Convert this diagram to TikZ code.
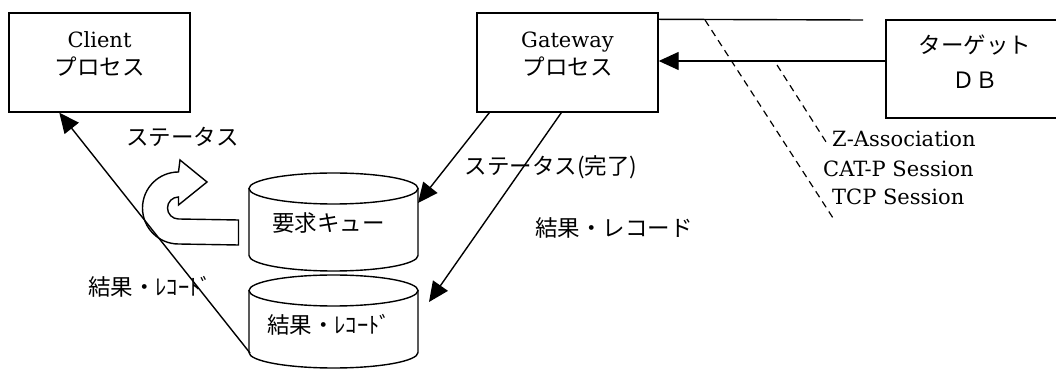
\documentclass[tikz,border=0pt]{standalone}
\usepackage{fontspec}
\setmainfont{DejaVu Serif}
\newfontfamily\jp{Noto Sans CJK JP}
\usetikzlibrary{arrows.meta}
\begin{document}
\begin{tikzpicture}[x=1pt,y=1pt,
  box/.style={draw, line width=1.4pt, minimum width=181pt, minimum height=99pt, inner sep=0pt},
  ln/.style={line width=1.4pt},
  arr/.style={ln, -{Triangle[length=20pt,width=18pt]}},
  jt/.style={font=\jp\fontsize{22.5}{27}\selectfont, inner sep=0pt},
  st/.style={font=\fontsize{21}{25}\selectfont, inner sep=0pt},
  dsh/.style={line width=1.2pt, dash pattern=on 7pt off 5pt}]
\clip (0,0) rectangle (1056,369);
\fill[white] (0,0) rectangle (1056,369);
% boxes
\node[box] (client) at (99.5,306.5) {};
\node[box] (gw) at (567.5,306.5) {};
\node[box, minimum width=200pt, minimum height=98pt] (target) at (986,300) {};
\node[st, anchor=base] (clientname) at (99.5,321) {Client};
\node[jt] (clientproc) at (99.5,302) {プロセス};
\node[st, anchor=base] (gwname) at (567.5,321) {Gateway};
\node[jt] (gwproc) at (567.5,302) {プロセス};
\node[jt] (tgt1) at (975,324) {ターゲット};
\node[jt] (tgt2) at (975,289) {ＤＢ};
% cylinders
\draw[ln] (333.5,180.5) ellipse (84.5pt and 15.5pt);
\draw[ln] (249,180.5) -- (249,113.5) arc (180:360:84.5pt and 15.5pt) -- (418,180.5);
\node[jt] (queue) at (328.5,146) {要求キュー};
\draw[ln] (333.5,78.5) ellipse (84.5pt and 15.5pt);
\draw[ln] (249,78.5) -- (249,16.5) arc (180:360:84.5pt and 15.5pt) -- (418,78.5);
\node[jt] (result) at (329,44) {結果・ﾚｺｰﾄﾞ};
\coordinate (q1) at (418,166);
\coordinate (r1) at (429,67);
\coordinate (r2) at (250,16);
% connections
\coordinate (tline) at ([yshift=-7pt]gw.north east);
\coordinate (tend) at (863,349);
\draw[ln] (tline) -- (tend);
\coordinate (t1) at ([yshift=8pt]target.west);
\draw[arr] (t1) -- (t1 -| gw.east);
\draw[arr] ([xshift=13pt]gw.south west) -- (q1);
\draw[arr] ([xshift=85pt]gw.south west) -- (r1);
\draw[arr] (r2) -- ([xshift=51pt]client.south west);
% dashed session lines
\coordinate (d1a) at (705,349);
\coordinate (d1b) at (833,151);
\coordinate (d2a) at (777,304);
\coordinate (d2b) at (828,224);
\draw[dsh] (d1a) -- (d1b);
\draw[dsh] (d2a) -- (d2b);
\node[st, anchor=base west] (za) at (832,222) {Z-Association};
\node[st, anchor=base west] (cat) at (823,192) {CAT-P Session};
\node[st, anchor=base west] (tcp) at (832,164) {TCP Session};
% labels
\node[jt] (lst) at (182.5,232) {ステータス};
\node[jt] (lstdone) at (551,201.5) {ステータス(完了)};
\node[jt] (lres) at (614,141.5) {結果・レコード};
\node[jt] (lres2) at (150,82.3) {結果・ﾚｺｰﾄﾞ};
% U-turn block arrow
\draw[ln] (238.5,149) -- (178.5,150) arc (270:90:11pt) -- (178.5,164) -- (207,187) -- (180,209) -- (178.5,197) arc (90:270:36pt) -- (238.5,124) -- cycle;
\end{tikzpicture}
\end{document}
